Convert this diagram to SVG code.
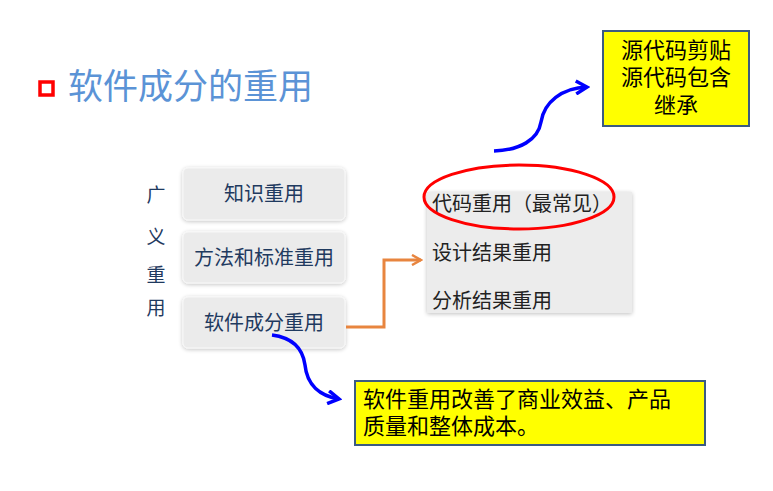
<svg xmlns="http://www.w3.org/2000/svg" width="773" height="491" viewBox="0 0 773 491">
<defs>
<filter id="sh" x="-10%" y="-20%" width="120%" height="140%">
<feGaussianBlur in="SourceAlpha" stdDeviation="2"/>
<feOffset dx="0" dy="1" result="b"/>
<feComponentTransfer><feFuncA type="linear" slope="0.25"/></feComponentTransfer>
<feMerge><feMergeNode/><feMergeNode in="SourceGraphic"/></feMerge>
</filter>
<marker id="ao" viewBox="0 0 12 12" refX="10" refY="6" markerWidth="12" markerHeight="12" markerUnits="userSpaceOnUse" orient="auto">
<path d="M1,1 L10,6 L1,11" fill="none" stroke="#E8853F" stroke-width="2.5"/>
</marker>
<marker id="ab" viewBox="0 0 16 16" refX="13" refY="8" markerWidth="16" markerHeight="16" markerUnits="userSpaceOnUse" orient="auto">
<path d="M2,1.5 L13,8 L2,14.5" fill="none" stroke="#0000FF" stroke-width="3.5"/>
</marker>
</defs>
<style>
.cjk{font-family:"Noto Sans CJK SC","Liberation Sans",sans-serif;}
.lbox{fill:#ebebeb;stroke:#f8f8f8;stroke-width:1;}
.ltxt{font-size:20px;fill:#1f3a5f;text-anchor:middle;}
.rtxt{font-size:20px;fill:#222;}
.ybox{fill:#ffff00;stroke:#3b5b82;stroke-width:2;}
.ytxt{font-size:22px;fill:#000;}
</style>
<rect width="773" height="491" fill="#fff"/>
<g id="title">
<rect x="40" y="82" width="13" height="13" fill="none" stroke="#ff0000" stroke-width="3.5"/>
<text x="68" y="99" class="cjk" font-size="35" fill="#5b93d6">软件成分的重用</text>
</g>
<g id="side-label" class="cjk" font-size="19" fill="#1f3a5f" text-anchor="middle">
<text x="156" y="202">广</text>
<text x="156" y="244">义</text>
<text x="156" y="282">重</text>
<text x="156" y="315">用</text>
</g>
<g id="box-knowledge">
<rect class="lbox" x="183" y="168" width="162" height="52" rx="5" filter="url(#sh)"/>
<text class="cjk ltxt" x="264" y="201">知识重用</text>
</g>
<g id="box-method">
<rect class="lbox" x="183" y="232" width="162" height="51" rx="5" filter="url(#sh)"/>
<text class="cjk ltxt" x="264" y="265">方法和标准重用</text>
</g>
<g id="box-component">
<rect class="lbox" x="183" y="297" width="162" height="51" rx="5" filter="url(#sh)"/>
<text class="cjk ltxt" x="264" y="330">软件成分重用</text>
</g>
<g id="panel-right">
<rect x="427" y="192" width="205" height="121" fill="#ececec" filter="url(#sh)"/>
<text class="cjk rtxt" x="432" y="211">代码重用（最常见）</text>
<text class="cjk rtxt" x="432" y="260">设计结果重用</text>
<text class="cjk rtxt" x="432" y="308">分析结果重用</text>
</g>
<g id="highlight">
<ellipse cx="519" cy="197" rx="95" ry="32" fill="none" stroke="#ff0000" stroke-width="3"/>
</g>
<g id="note-top">
<rect class="ybox" x="603" y="31" width="146" height="95"/>
<g class="cjk ytxt" text-anchor="middle">
<text x="676" y="58">源代码剪贴</text>
<text x="676" y="85">源代码包含</text>
<text x="676" y="113">继承</text>
</g>
</g>
<g id="note-bottom">
<rect class="ybox" x="355" y="381" width="350" height="64"/>
<text class="cjk ytxt" x="363" y="407">软件重用改善了商业效益、产品</text>
<text class="cjk ytxt" x="363" y="434">质量和整体成本。</text>
</g>
<g id="connectors" fill="none">
<path d="M346,327 H384 V260 H421" stroke="#E8853F" stroke-width="3" marker-end="url(#ao)"/>
<path d="M494,151 C520,150 538,140 541,122 C544,102 562,88 587,87" stroke="#0000FF" stroke-width="3.5" marker-end="url(#ab)"/>
<path d="M272,335 C295,338 303,350 305,365 C307,385 320,396 339,399" stroke="#0000FF" stroke-width="3.5" marker-end="url(#ab)"/>
</g>
</svg>
